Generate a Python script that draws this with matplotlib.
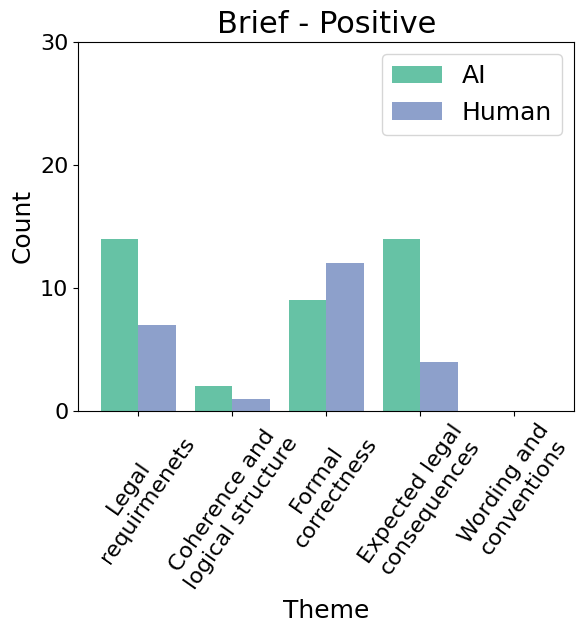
import numpy as np
import matplotlib
matplotlib.use("Agg")
import matplotlib.pyplot as plt

themes = ["Legal\nrequirmenets", "Coherence and\nlogical structure", "Formal\ncorrectness",
          "Expected legal\nconsequences", "Wording and\nconventions"]
ai_counts = [14, 2, 9, 14, 0]
human_counts = [7, 1, 12, 4, 0]

x = np.arange(len(themes))
w = 0.4

fig, ax = plt.subplots(figsize=(5.83, 6.33), dpi=100)
ax.bar(x - w / 2, ai_counts, w, color="#66c2a5", label="AI")
ax.bar(x + w / 2, human_counts, w, color="#8da0cb", label="Human")

ax.set_title("Brief - Positive", fontsize=22)
ax.set_xlabel("Theme", fontsize=18)
ax.set_ylabel("Count", fontsize=18)
ax.set_ylim(0, 30)
ax.set_yticks([0, 10, 20, 30])
ax.set_xticks(x)
ax.set_xticklabels(themes, rotation=55, fontsize=16)
ax.tick_params(axis="y", labelsize=16)
ax.legend(fontsize=18)

fig.subplots_adjust(left=0.134, right=0.985, top=0.934, bottom=0.351)
fig.savefig("out.png")
